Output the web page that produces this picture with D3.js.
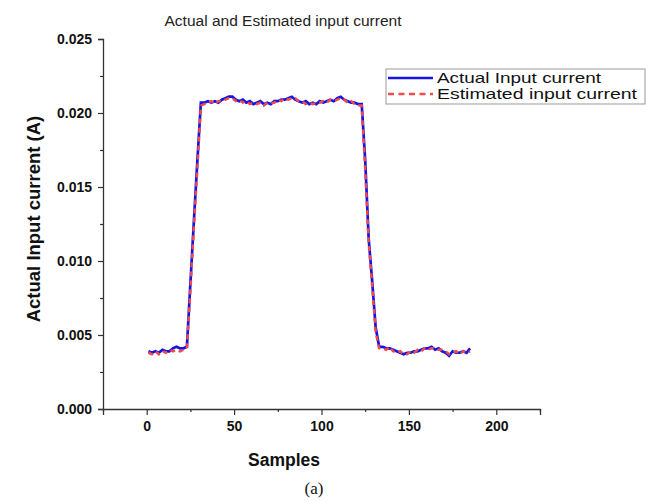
<!DOCTYPE html>
<html>
<head>
  <meta charset="UTF-8">
  <style>
    body { margin: 0; background: #fff; }
    text { font-family: "Liberation Sans", Arial, sans-serif; }
  </style>
</head>
<body>
<script src="https://d3js.org/d3.v7.min.js"></script>
<div id="my_dataviz"></div>
<script>

// sample index (every 2nd sample)
var samples = d3.range(1, 186, 2);

// actual input current (A)
var actual = [
  0.0039, 0.0038, 0.0039, 0.0038, 0.0040, 0.0039, 0.0039, 0.0041, 0.0042, 0.0041, 0.0041,
  0.0042, 0.0085, 0.0127, 0.0168, 0.0207,
  0.0207, 0.0208, 0.0207, 0.0208, 0.0207, 0.0209, 0.0210, 0.0211, 0.0211, 0.0209,
  0.0208, 0.0209, 0.0207, 0.0208, 0.0206, 0.0207, 0.0208, 0.0206, 0.0207, 0.0206,
  0.0208, 0.0208, 0.0209, 0.0209, 0.0210, 0.0211, 0.0209, 0.0208, 0.0207, 0.0208,
  0.0206, 0.0207, 0.0206, 0.0208, 0.0207, 0.0208, 0.0209, 0.0208, 0.0210, 0.0211,
  0.0209, 0.0208, 0.0207, 0.0207, 0.0206,
  0.0206, 0.0168, 0.0115, 0.0086, 0.0055, 0.0042,
  0.0042, 0.0041, 0.0041, 0.0040, 0.0039, 0.0038, 0.0037, 0.0038, 0.0038, 0.0039,
  0.0039, 0.0040, 0.0041, 0.0041, 0.0042, 0.0040, 0.0041, 0.0039, 0.0038, 0.0036,
  0.0039, 0.0038, 0.0038, 0.0039, 0.0038, 0.0041
];

// estimated input current (A)
var estimated = [
  0.0038, 0.0037, 0.0039, 0.0037, 0.0039, 0.0038, 0.0040, 0.0039, 0.0040, 0.0039, 0.0040,
  0.0041, 0.0080, 0.0123, 0.0163, 0.0205,
  0.0206, 0.0207, 0.0208, 0.0206, 0.0208, 0.0208, 0.0209, 0.0210, 0.0210, 0.0208,
  0.0209, 0.0207, 0.0208, 0.0206, 0.0207, 0.0206, 0.0207, 0.0205, 0.0207, 0.0207,
  0.0207, 0.0209, 0.0208, 0.0210, 0.0209, 0.0210, 0.0210, 0.0208, 0.0208, 0.0206,
  0.0207, 0.0206, 0.0207, 0.0207, 0.0208, 0.0207, 0.0209, 0.0208, 0.0209, 0.0210,
  0.0209, 0.0207, 0.0208, 0.0206, 0.0205,
  0.0205, 0.0162, 0.0112, 0.0083, 0.0052, 0.0041,
  0.0041, 0.0040, 0.0042, 0.0039, 0.0038, 0.0039, 0.0037, 0.0037, 0.0039, 0.0038,
  0.0040, 0.0039, 0.0041, 0.0040, 0.0041, 0.0041, 0.0040, 0.0040, 0.0039, 0.0037,
  0.0038, 0.0039, 0.0037, 0.0039, 0.0038, 0.0039
];

var xTicks = [0, 50, 100, 150, 200];
var xMinor = [-25, 25, 75, 125, 175, 225];
var yTicks = [0, 0.005, 0.010, 0.015, 0.020, 0.025];
var yMinor = [0.0025, 0.0075, 0.0125, 0.0175, 0.0225];
var legendNames = ["Actual Input current", "Estimated input current"];

var W = 650, H = 502;
var margin = {top: 39, right: 110, bottom: 93, left: 103},
  width = W - margin.left - margin.right,
  height = H - margin.top - margin.bottom;

var root = d3.select("#my_dataviz")
.append("svg")
  .attr("width", W)
  .attr("height", H);

var svg = root.append("g")
  .attr("transform", "translate(" + margin.left + "," + margin.top + ")");

var x = d3.scaleLinear().domain([-25, 225]).range([0, width]);
var y = d3.scaleLinear().domain([0, 0.025]).range([height, 0]);

// axes
svg.append("g")
  .attr("transform", "translate(0," + height + ")")
  .call(d3.axisBottom(x).tickValues(xTicks).tickSize(6).tickPadding(6).tickFormat(d3.format("d")));
svg.append("g")
  .attr("transform", "translate(0," + height + ")")
  .call(d3.axisBottom(x).tickValues(xMinor).tickSize(3).tickFormat(""))
  .select(".domain").remove();

svg.append("g")
  .call(d3.axisLeft(y).tickValues(yTicks).tickSize(5).tickPadding(6).tickFormat(d3.format(".3f")));
svg.append("g")
  .call(d3.axisLeft(y).tickValues(yMinor).tickSize(3).tickFormat(""))
  .select(".domain").remove();

svg.selectAll(".domain").attr("stroke", "#333").attr("stroke-width", 1.3);
svg.selectAll(".tick line").attr("stroke", "#333").attr("stroke-width", 1.2);
svg.selectAll(".tick text")
  .attr("font-family", "Liberation Sans, Arial, sans-serif")
  .attr("font-size", "14px")
  .attr("font-weight", "bold")
  .attr("fill", "#111");

// lines
var pts = function(vals) { return samples.map(function(s, i) { return [s, vals[i]]; }); };
var line = d3.line()
  .x(function(d) { return x(d[0]); })
  .y(function(d) { return y(d[1]); });

svg.append("path")
  .datum(pts(actual))
  .attr("fill", "none")
  .attr("stroke", "#1414e6")
  .attr("stroke-width", 2.7)
  .attr("d", line);

svg.append("path")
  .datum(pts(estimated))
  .attr("fill", "none")
  .attr("stroke", "#f04a4a")
  .attr("stroke-width", 2.5)
  .attr("stroke-dasharray", "5,4")
  .attr("d", line);

// title and labels
root.append("text")
  .attr("x", 283)
  .attr("y", 26)
  .attr("text-anchor", "middle")
  .attr("font-size", "15.5px")
  .attr("fill", "#222")
  .text("Actual and Estimated input current");

root.append("text")
  .attr("transform", "translate(40," + 219 + ") rotate(-90)")
  .attr("text-anchor", "middle")
  .attr("font-size", "18.5px")
  .attr("font-weight", "bold")
  .attr("fill", "#111")
  .text("Actual Input current (A)");

root.append("text")
  .attr("x", 284)
  .attr("y", 466)
  .attr("text-anchor", "middle")
  .attr("font-size", "17.5px")
  .attr("font-weight", "bold")
  .attr("fill", "#111")
  .text("Samples");

root.append("text")
  .attr("x", 314)
  .attr("y", 494)
  .attr("text-anchor", "middle")
  .style("font-family", "Liberation Serif, Times New Roman, serif")
  .attr("font-size", "17px")
  .attr("fill", "#111")
  .text("(a)");

// legend
var lg = root.append("g").attr("transform", "translate(386,69)");
lg.append("rect")
  .attr("width", 259)
  .attr("height", 35)
  .attr("fill", "#fff")
  .attr("stroke", "#999")
  .attr("stroke-width", 1);
var lcol = ["#1414e6", "#f04a4a"];
var lwid = [164, 200];
legendNames.forEach(function(name, i) {
  var cy = 9 + i * 16;
  lg.append("line")
    .attr("x1", 2).attr("x2", 47)
    .attr("y1", cy).attr("y2", cy)
    .attr("stroke", lcol[i])
    .attr("stroke-width", 2.4)
    .attr("stroke-dasharray", i === 1 ? "6,4.5" : null);
  lg.append("text")
    .attr("x", 51)
    .attr("y", cy + 5)
    .attr("font-size", "15px")
    .attr("textLength", lwid[i])
    .attr("lengthAdjust", "spacingAndGlyphs")
    .attr("fill", "#111")
    .text(name);
});

</script>
</body>
</html>
